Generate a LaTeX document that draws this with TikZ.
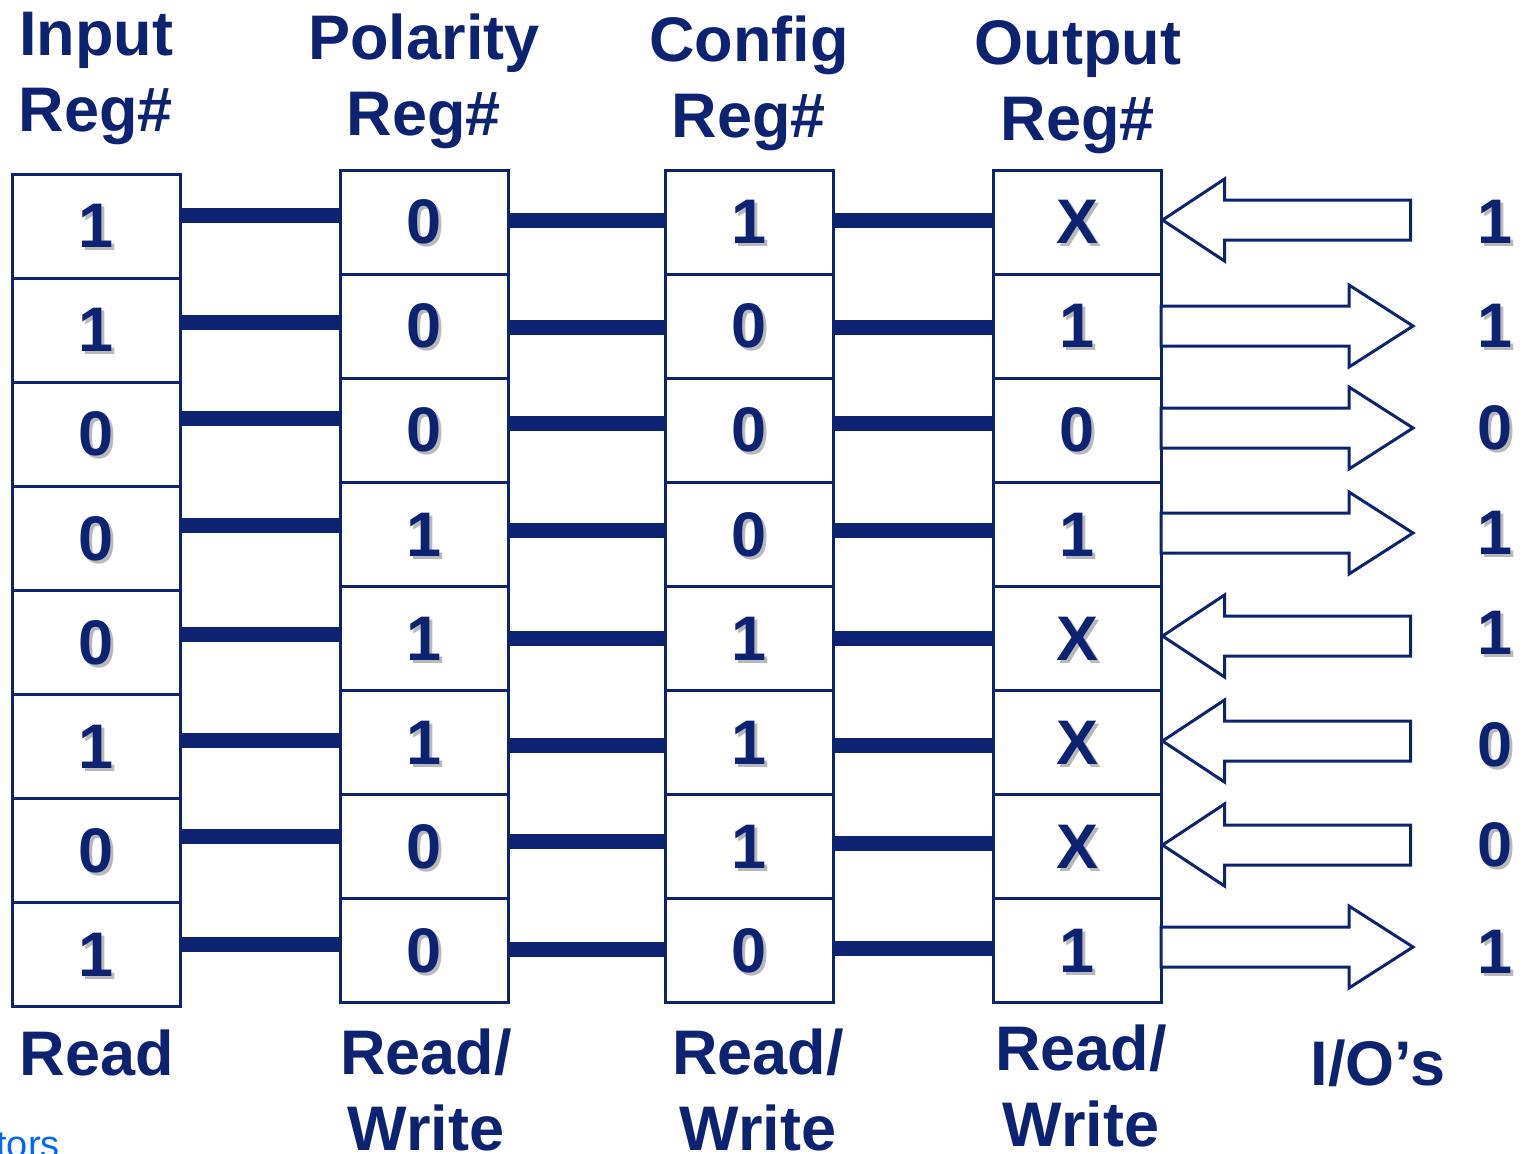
\documentclass[tikz,border=0pt]{standalone}
\usepackage{fontspec}
\setmainfont{Liberation Sans}
\definecolor{navy}{RGB}{14,34,114}
\definecolor{shadowgray}{RGB}{185,185,185}
\definecolor{linkblue}{RGB}{0,102,255}
\newcommand\shd[1]{\makebox[0pt][l]{\hspace{1.5pt}\smash{\raisebox{-1.5pt}{\textcolor{shadowgray}{#1}}}}#1}
\newcommand\hdfont{\fontsize{31.5pt}{38pt}\selectfont\bfseries}
\begin{document}
\begin{tikzpicture}[x=0.5pt,y=-0.5pt,
  cell/.style={draw=navy, line width=1.5pt, minimum width=84pt, minimum height=52pt, inner sep=0pt, font=\hdfont, text=navy},
  bar/.style={draw=navy, line width=7.5pt},
  arr/.style={draw=navy, line width=1.5pt, fill=white},
  lab/.style={font=\hdfont, text=navy, align=center, anchor=base, inner sep=0pt},
  iod/.style={font=\hdfont, text=navy, inner sep=0pt}]
\useasboundingbox (0,0) rectangle (1531,1153);
% register cells
\foreach \v [count=\i] in {1,1,0,0,0,1,0,1}
  \node[cell] (a\i) at (96,{174+104.1*(\i-0.5)}) {\shd{\v}};
\foreach \v [count=\i] in {0,0,0,1,1,1,0,0}
  \node[cell] (b\i) at (424,{170+104.1*(\i-0.5)}) {\shd{\v}};
\foreach \v [count=\i] in {1,0,0,0,1,1,1,0}
  \node[cell] (c\i) at (749.5,{170+104.1*(\i-0.5)}) {\shd{\v}};
\foreach \v [count=\i] in {X,1,0,1,X,X,X,1}
  \node[cell] (d\i) at (1077,{170+104.1*(\i-0.5)}) {\shd{\v}};
% connecting bars
\foreach \i/\y in {1/215,2/322,3/418,4/525,5/634,6/740,7/836,8/944}
  \draw[bar] (a\i.east |- 0,\y) -- (b\i.west |- 0,\y);
\foreach \i/\y in {1/220,2/327,3/423,4/530,5/638,6/745,7/841,8/949}
  \draw[bar] (b\i.east |- 0,\y) -- (c\i.west |- 0,\y);
\foreach \i/\y in {1/220,2/327,3/423,4/530,5/638,6/745,7/843,8/948}
  \draw[bar] (c\i.east |- 0,\y) -- (d\i.west |- 0,\y);
% input arrows (pointing left)
\foreach \i/\y in {1/220,5/636,6/741,7/845}
  \draw[arr] (d\i.east |- 0,\y) -- ++(62,-41) -- ++(0,21) -- ++(186,0) -- ++(0,40) -- ++(-186,0) -- ++(0,21) -- cycle;
% output arrows (pointing right)
\foreach \i/\y in {2/326,3/428,4/533,8/947}
  \draw[arr] (d\i.east |- 0,\y) ++(-1.5,-20) -- ++(188,0) -- ++(0,-21) -- ++(64,41) -- ++(-64,41) -- ++(0,-21) -- ++(-188,0) -- cycle;
% I/O values
\foreach \v/\y [count=\i] in {1/222,1/326,0/428,1/533,1/633,0/745,0/845,1/952}
  \node[iod] (io\i) at (1495,\y) {\shd{\v}};
% headings (anchor base = last line)
\node[lab] (hin) at (96,131) {Input\\Reg\#};
\node[lab] (hpo) at (424,135) {Polarity\\Reg\#};
\node[lab] (hco) at (749,137) {Config\\Reg\#};
\node[lab] (hou) at (1078,140) {Output\\Reg\#};
% bottom labels
\node[lab] (rin) at (97,1075) {Read};
\node[lab] (rpo) at (426,1150) {Read/\\Write};
\node[lab] (rco) at (758,1150) {Read/\\Write};
\node[lab] (rou) at (1081,1146) {Read/\\Write};
\node[lab] (ios) at (1378,1085) {I/O’s};
\node[font=\fontsize{19pt}{22pt}\selectfont, text=linkblue, anchor=base west, inner sep=0pt] (tors) at (-4,1157) {tors};
\end{tikzpicture}
\end{document}
